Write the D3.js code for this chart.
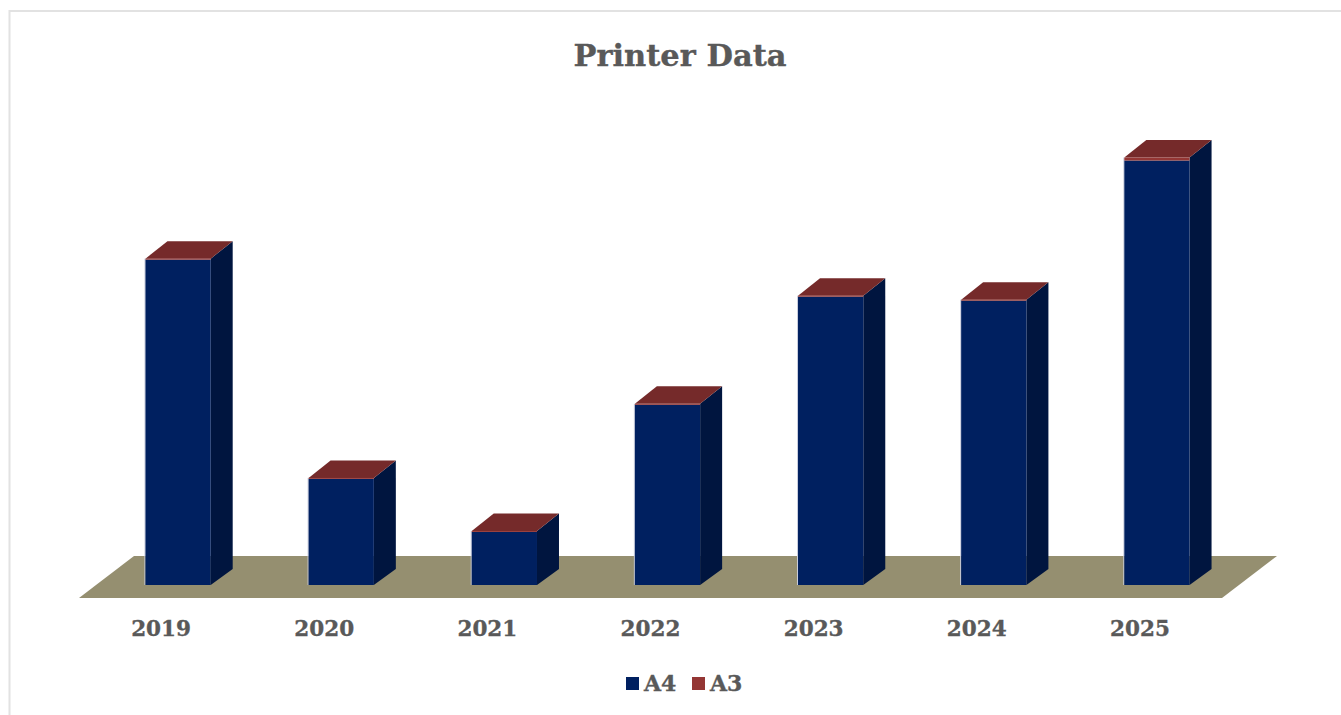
<!DOCTYPE html>
<html><head><meta charset="utf-8">
<script src="https://cdn.jsdelivr.net/npm/d3@7/dist/d3.min.js"></script>
<style>html,body{margin:0;padding:0;background:#fff}svg{display:block}
text{font-family:"DejaVu Serif",serif;font-weight:700;fill:#595959;stroke:#595959;stroke-width:.35px}</style>
</head><body><svg id="c" width="1341" height="715"></svg>
<script>
const years = ["2019","2020","2021","2022","2023","2024","2025"];
const a4 = [325,106,53,180,288,284,424];
const a3 = [1,1,1,1,1,1,3];
const seriesNames = ["A4","A3"];
const chartTitle = "Printer Data";

const W=1341,H=715, depthX=22, depthTop=17.5, depthBase=16;
const colors={A4:{front:"#002060",side:"#00153f",top:"#752a2a"},A3:{front:"#943634",side:"#00153f",top:"#752a2a"}};
const svg=d3.select("#c");
const rows=years.map((y,i)=>({year:y,A4:a4[i],A3:a3[i]}));
const x=d3.scaleBand().domain(years).range([96.5,1238.5]).paddingInner(0.6).paddingOuter(0.3);
const y=d3.scaleLinear().domain([0,450]).range([585,134.5]);
const stack=d3.stack().keys(seriesNames)(rows);
const line=d3.line();

// frame
svg.append("path").attr("d","M9.5,715V11H1341").attr("fill","none").attr("stroke","#e2e2e2").attr("stroke-width",2);

// floor
const fb=598, ft=556, fl=79, fr=1222, fdx=55;
svg.append("path").attr("d",line([[fl,fb],[fl+fdx,ft],[fr+fdx,ft],[fr,fb]])+"Z").attr("fill","#958f70");

// bars
const g=svg.append("g").selectAll("g").data(rows).join("g");
g.each(function(d){
  const G=d3.select(this), x0=x(d.year), x1=x0+x.bandwidth(), top=y(d.A4+d.A3);
  G.append("path").attr("d",line([[x1,y(0)],[x1+depthX,y(0)-depthBase],[x1+depthX,top-depthTop],[x1,top]])+"Z").attr("fill",colors.A4.side);
  G.append("path").attr("d",line([[x0,top],[x0+depthX,top-depthTop],[x1+depthX,top-depthTop],[x1,top]])+"Z").attr("fill",colors.A4.top);
  G.append("rect").attr("x",x0-1).attr("y",top).attr("width",1).attr("height",y(0)-top).attr("fill","#c9cddd");
});
stack.forEach(s=>{
  svg.append("g").selectAll("rect").data(s).join("rect")
    .attr("x",d=>x(d.data.year)).attr("width",x.bandwidth())
    .attr("y",d=>y(d[1])).attr("height",d=>y(d[0])-y(d[1]))
    .attr("fill",colors[s.key].front);
});

// x labels
svg.append("g").selectAll("text").data(years).join("text")
  .attr("x",d=>x(d)+x.bandwidth()/2-17).attr("y",636).attr("text-anchor","middle")
  .attr("font-size",21.5).text(d=>d);

// title
svg.append("text").attr("x",680).attr("y",66).attr("text-anchor","middle").attr("font-size",30.5).text(chartTitle);

// legend
const lx={A4:626,A3:692};
seriesNames.forEach(n=>{
  svg.append("rect").attr("x",lx[n]).attr("y",677).attr("width",13).attr("height",13).attr("fill",colors[n].front);
  svg.append("text").attr("x",lx[n]+18).attr("y",691).attr("font-size",22).text(n);
});
</script></body></html>
